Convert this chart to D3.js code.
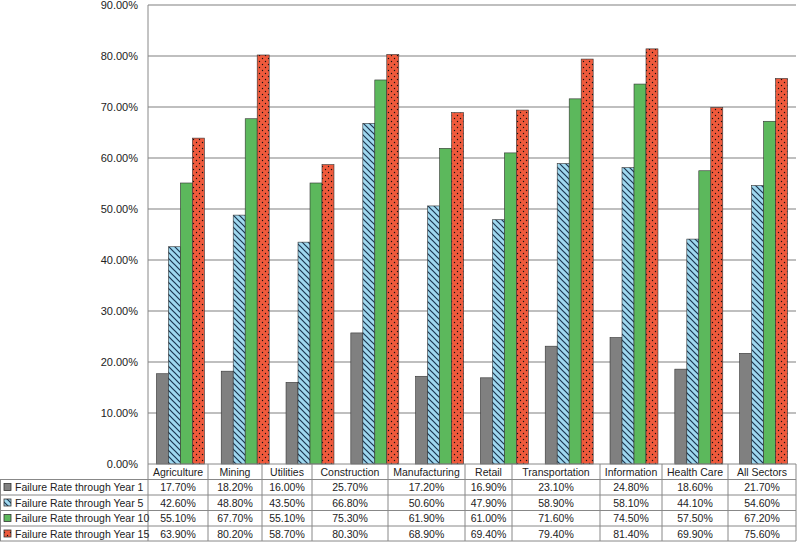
<!DOCTYPE html>
<html><head><meta charset="utf-8">
<script src="https://cdn.jsdelivr.net/npm/d3@7"></script>
<style>body{margin:0;background:#fff;font-family:"Liberation Sans",Arial,sans-serif;}</style>
</head><body><script>
function drawChart(){
var W = 797, H = 542;
var cats = ["Agriculture","Mining","Utilities","Construction","Manufacturing","Retail","Transportation","Information","Health Care","All Sectors"];
var series = [
  {name:"Failure Rate through Year 1", fill:"#808080", vals:[17.7,18.2,16.0,25.7,17.2,16.9,23.1,24.8,18.6,21.7]},
  {name:"Failure Rate through Year 5", fill:"url(#hatch)", vals:[42.6,48.8,43.5,66.8,50.6,47.9,58.9,58.1,44.1,54.6]},
  {name:"Failure Rate through Year 10", fill:"#5cb85c", vals:[55.1,67.7,55.1,75.3,61.9,61.0,71.6,74.5,57.5,67.2]},
  {name:"Failure Rate through Year 15", fill:"url(#dots)", vals:[63.9,80.2,58.7,80.3,68.9,69.4,79.4,81.4,69.9,75.6]}
];
// table column edges (text-fitted widths)
var colEdges = [148,208,262,312,388,465,512,600,662,728,796];
var left = 148, right = 796, plotTop = 5, base = 464, rowH = 15.5;

var svg = d3.select("body").append("svg").attr("width", W).attr("height", H);
var defs = svg.append("defs");
var h = defs.append("pattern").attr("id","hatch").attr("patternUnits","userSpaceOnUse").attr("width",6).attr("height",6);
h.append("rect").attr("width",6).attr("height",6).attr("fill","#9fd8ef");
h.append("path").attr("d","M0,0 L6,6 M-1,5 L1,7 M5,-1 L7,1").attr("stroke","#1a3550").attr("stroke-width",1.2);
var p = defs.append("pattern").attr("id","dots").attr("patternUnits","userSpaceOnUse").attr("width",6).attr("height",6);
p.append("rect").attr("width",6).attr("height",6).attr("fill","#ef5a3c");
p.append("circle").attr("cx",1.5).attr("cy",1.5).attr("r",0.7).attr("fill","#111");
p.append("circle").attr("cx",4.5).attr("cy",4.5).attr("r",0.7).attr("fill","#111");

var y = d3.scaleLinear().domain([0,90]).range([base, plotTop]);
var x = d3.scaleBand().domain(cats).range([left, right]).paddingInner(0.26).paddingOuter(0.13);
var xs = d3.scaleBand().domain(d3.range(4)).range([0, x.bandwidth()]);

// gridlines
svg.selectAll(".grid").data(d3.range(10,100,10)).enter().append("line")
  .attr("x1", left).attr("x2", right).attr("y1", d=>y(d)).attr("y2", d=>y(d))
  .attr("stroke","#aaa").attr("stroke-width",1.3);
svg.selectAll(".tick").data(d3.range(0,100,10)).enter().append("text")
  .attr("x", 138).attr("y", d=>y(d)+4).attr("text-anchor","end")
  .attr("font-size",11).attr("fill","#222").text(d=>d.toFixed(2)+"%");
svg.append("line").attr("x1",left).attr("x2",left).attr("y1",plotTop).attr("y2",base).attr("stroke","#888");

// bars
series.forEach(function(s, i){
  svg.selectAll(".b"+i).data(s.vals).enter().append("rect")
    .attr("x", (d,j)=>x(cats[j])+xs(i)).attr("width", xs.bandwidth())
    .attr("y", d=>y(d)).attr("height", d=>base-y(d))
    .attr("fill", s.fill).attr("stroke","#333").attr("stroke-width",0.6);
});

// data table
var t = svg.append("g").attr("font-size",10.5).attr("fill","#222");
var tableBottom = Math.min(base + rowH*5, H-1);
colEdges.forEach(function(e){
  t.append("line").attr("x1",e).attr("x2",e).attr("y1",base).attr("y2",tableBottom).attr("stroke","#888");
});
t.append("line").attr("x1",0.5).attr("x2",0.5).attr("y1",base+rowH).attr("y2",tableBottom).attr("stroke","#888");
for (var r=0;r<=5;r++){
  var ly = Math.min(base+rowH*r, H-1);
  t.append("line").attr("x1", r==0 ? left : 0).attr("x2",right).attr("y1",ly).attr("y2",ly).attr("stroke","#888");
}
cats.forEach(function(c,j){
  t.append("text").attr("x",(colEdges[j]+colEdges[j+1])/2).attr("y",base+11.5).attr("text-anchor","middle").text(c);
});
series.forEach(function(s,i){
  var ry = base + rowH*(i+1);
  t.append("rect").attr("x",4).attr("y",ry+4).attr("width",7).attr("height",7).attr("fill",s.fill).attr("stroke","#333").attr("stroke-width",0.8);
  t.append("text").attr("x",15).attr("y",ry+11.5).text(s.name);
  s.vals.forEach(function(v,j){
    t.append("text").attr("x",(colEdges[j]+colEdges[j+1])/2).attr("y",ry+11.5).attr("text-anchor","middle").text(v.toFixed(2)+"%");
  });
});
}
drawChart();
</script></body></html>
